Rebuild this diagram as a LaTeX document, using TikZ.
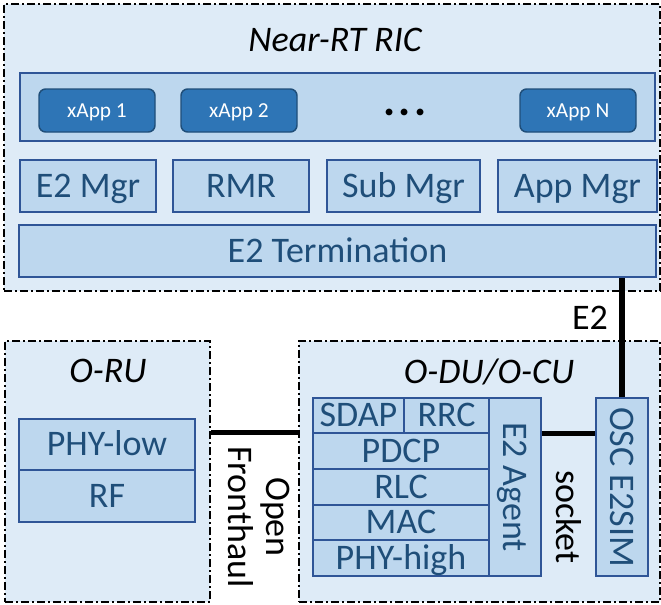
\documentclass[tikz,border=0pt]{standalone}
\usepackage{fontspec}
\setmainfont{Carlito}
\usetikzlibrary{fit,positioning}
\definecolor{ricbg}{HTML}{DEEBF7}
\definecolor{layerfill}{HTML}{BDD7EE}
\definecolor{layerline}{HTML}{2F5597}
\definecolor{layertext}{HTML}{1F4E79}
\definecolor{xappfill}{HTML}{2E75B6}
\def\layerfont{\fontsize{27}{28.5}\selectfont}
\def\xappfont{\fontsize{16}{19}\selectfont}

\begin{document}
\begin{tikzpicture}[x=0.75pt,y=-0.75pt,
    unitbox/.style={draw=black, line width=0.9pt, fill=ricbg, inner sep=0pt,
      dash pattern=on 6pt off 2.5pt on 1pt off 2.5pt},
    title/.style={font=\layerfont\itshape, inner sep=0pt, text height=17pt, text depth=0pt},
    sz/.style 2 args={minimum width=#1*0.75pt, minimum height=#2*0.75pt},
    layer/.style={draw=layerline, line width=1.1pt, fill=layerfill, text=layertext,
      font=\layerfont, inner sep=0pt, text height=17pt, text depth=0pt},
    xapp/.style={draw=layertext, line width=1.1pt, fill=xappfill, text=white,
      rounded corners=5pt, font=\xappfont, inner sep=0pt, text height=10.1pt, text depth=0pt},
    link/.style={line width=3.8pt, black},
    lbl/.style={font=\layerfont, inner sep=0pt, text height=17pt, text depth=0pt}]
  \useasboundingbox (0,0) rectangle (661,604);

  % Near-RT RIC
  \node[unitbox, fit={(4,4) (660,291)}] (ric) {};
  \node[title] (rictitle) at (335,40) {Near-RT RIC};
  \node[layer, sz={635}{68}] (xbar) at (337.5,107) {};
  \node[xapp, sz={116}{43}] (xapp1) at (97,110.5) {xApp 1};
  \node[xapp, sz={116}{43}] (xapp2) at (239,110.5) {xApp 2};
  \node[lbl, font=\fontsize{34}{36}\selectfont\bfseries, text height=4pt] (dots) at (405,113) {.\kern2.75pt.\kern2.75pt.};
  \node[xapp, sz={116}{43}] (xappn) at (578,110.5) {xApp N};
  \node[layer, sz={136}{52}] (e2mgr) at (88,186) {E2 Mgr};
  \node[layer, sz={136}{52}] (rmr) at (241,186) {RMR};
  \node[layer, sz={153}{52}] (submgr) at (403.5,186) {Sub Mgr};
  \node[layer, sz={159}{52}] (appmgr) at (577.5,186) {App Mgr};
  \node[layer, sz={637}{52}] (e2term) at (337.5,251) {E2 Termination};

  % O-RU
  \node[unitbox, fit={(5,341) (210,602)}] (oru) {};
  \node[title] (orutitle) at (108,371) {O-RU};
  \node[layer, sz={176}{51}] (phylow) at (107,444.5) {PHY-low};
  \node[layer, sz={176}{52}] (rf) at (107,496) {RF};

  % O-DU/O-CU
  \node[unitbox, fit={(299,341) (660,602)}] (odu) {};
  \node[title] (odutitle) at (489,372) {O-DU/O-CU};
  \node[layer, sz={91}{35}] (sdap) at (358.5,415.5) {SDAP};
  \node[layer, sz={85}{35}] (rrc) at (446.5,415.5) {RRC};
  \node[layer, sz={176}{36}] (pdcp) at (401,451) {PDCP};
  \node[layer, sz={176}{36}] (rlc) at (401,487) {RLC};
  \node[layer, sz={176}{35}] (mac) at (401,522.5) {MAC};
  \node[layer, sz={176}{36}] (phyhigh) at (401,558) {PHY-high};
  \node[layer, sz={178}{52}, rotate=-90] (e2agent) at (515,487) {E2 Agent};
  \node[layer, sz={178}{52}, rotate=-90] (e2sim) at (622,487) {OSC E2SIM};

  % interfaces
  \draw[link] (oru.east |- pdcp.north) -- (odu.west |- pdcp.north);
  \node[lbl, rotate=-90, align=center] (fh) at (240,517) {Open\\Fronthaul};
  \draw[link] (e2agent.north |- sdap.south) -- (e2sim.south |- sdap.south);
  \node[lbl, rotate=-90] (socket) at (568,517) {socket};
  \draw[link] (e2sim.west) -- (e2sim.west |- e2term.south);
  \node[lbl] (e2lbl) at (590,318) {E2};
\end{tikzpicture}
\end{document}
